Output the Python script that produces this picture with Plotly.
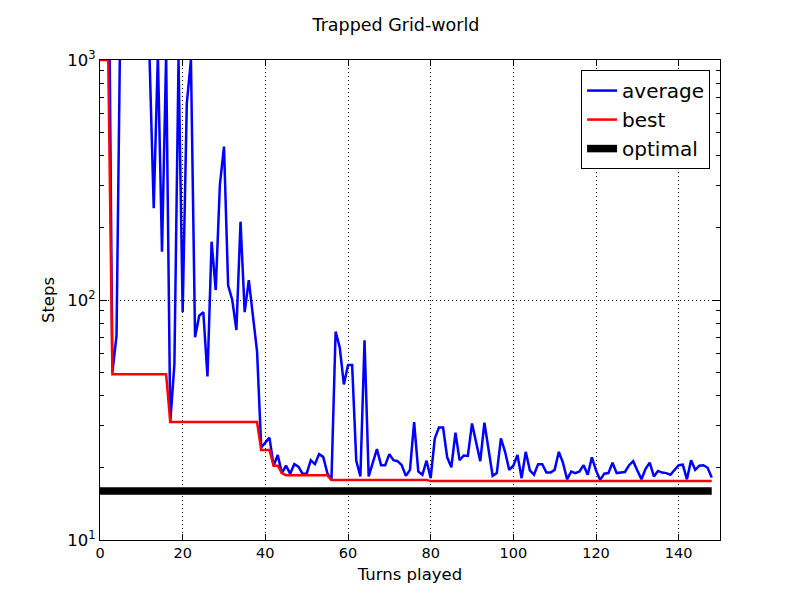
import plotly.graph_objects as go

turns = list(range(149))

average = [
    5000, 5000, 5000, 50, 71, 2000, 2000, 2000, 2000, 2000,
    2000, 2000, 1000, 241, 1050, 159, 1050, 31, 54, 1000,
    89, 660, 1000, 70, 86, 89, 48, 175, 110, 301,
    436, 115, 100, 75, 212, 89, 121, 86, 61, 24.3,
    25.6, 26.7, 20.4, 22.6, 19.0, 20.4, 18.9, 20.7, 20.2, 18.9,
    18.9, 21.5, 20.7, 22.8, 22.2, 19.0, 17.8, 73.8, 63.5, 44.5,
    53.6, 53.6, 21.4, 18.4, 68, 18.4, 21, 23.9, 20.5, 20.5,
    22.8, 21.5, 21.3, 20.5, 18.5, 19.6, 31, 19.3, 18.7, 21.4,
    18.1, 26.5, 29.4, 29.4, 22.1, 20.1, 28, 21.5, 22.5, 22.4,
    30.6, 25.3, 21.3, 30.8, 24.1, 18.5, 19.0, 26.5, 23.3, 19.6,
    20.4, 22.6, 18.1, 23.3, 19.5, 18.7, 20.7, 20.7, 19.1, 19.1,
    19.6, 23.3, 21, 17.9, 19.3, 19.0, 19.3, 20.5, 18.7, 22.1,
    19.5, 17.8, 18.9, 19.0, 21, 19.0, 19.1, 19.2, 20.5, 21.3,
    19.5, 17.9, 19.8, 21, 18.4, 19.4, 19.1, 19.0, 18.7, 19.5,
    20.5, 20.6, 17.9, 21.5, 19.6, 20.4, 20.5, 20.0, 18.2,
]

best = [
    1000, 1000, 1000,
    49, 49, 49, 49, 49, 49, 49, 49, 49, 49, 49, 49, 49, 49,
    31, 31, 31, 31, 31, 31, 31, 31, 31, 31, 31,
    31, 31, 31, 31, 31, 31, 31, 31, 31, 31, 31,
    23.7, 23.7, 23.7,
    20.4, 20.4,
    19.0,
    18.6, 18.6, 18.6, 18.6, 18.6, 18.6, 18.6, 18.6, 18.6, 18.6, 18.6,
    17.8, 17.8, 17.8, 17.8, 17.8, 17.8, 17.8, 17.8, 17.8, 17.8, 17.8, 17.8,
    17.8, 17.8, 17.8, 17.8, 17.8, 17.8, 17.8, 17.8, 17.8, 17.8, 17.8, 17.8,
    17.6, 17.6, 17.6, 17.6, 17.6, 17.6, 17.6, 17.6, 17.6, 17.6,
    17.6, 17.6, 17.6, 17.6, 17.6, 17.6, 17.6, 17.6, 17.6, 17.6,
    17.6, 17.6, 17.6, 17.6, 17.6, 17.6, 17.6, 17.6, 17.6, 17.6,
    17.6, 17.6, 17.6, 17.6, 17.6, 17.6, 17.6, 17.6, 17.6, 17.6,
    17.6, 17.6, 17.6, 17.6, 17.6, 17.6, 17.6, 17.6, 17.6, 17.6,
    17.6, 17.6, 17.6, 17.6, 17.6, 17.6, 17.6, 17.6, 17.6, 17.6,
    17.6, 17.6, 17.6, 17.6, 17.6, 17.6, 17.6, 17.6, 17.6,
]

optimal_value = 16
optimal = [optimal_value for _ in turns]

x_ticks = [0, 20, 40, 60, 80, 100, 120, 140]
y_ticks = [10, 100, 1000]
y_ticktext = ["10<sup>1</sup>", "10<sup>2</sup>", "10<sup>3</sup>"]

FONT = "DejaVu Sans"

fig = go.Figure()
fig.add_trace(go.Scatter(x=turns, y=average, mode="lines", name="average",
                         line=dict(color="#0000ff", width=2.5), legendgroup="a"))
fig.add_trace(go.Scatter(x=turns, y=best, mode="lines", name="best",
                         line=dict(color="#ff0000", width=2.5), legendgroup="b"))
fig.add_trace(go.Scatter(x=turns, y=optimal, mode="lines", name="optimal",
                         line=dict(color="#000000", width=7.5), legendgroup="c"))

fig.update_layout(
    width=800, height=600,
    margin=dict(l=100, r=80, t=60, b=60),
    paper_bgcolor="white", plot_bgcolor="white",
    font=dict(family=FONT, size=14.5, color="black"),
    title=dict(text="Trapped Grid-world", x=0.495, xref="container", xanchor="center",
               y=0.958, yref="container", yanchor="middle",
               font=dict(family=FONT, size=17.5, color="black")),
    legend=dict(x=0.984, y=0.979, xanchor="right", yanchor="top",
                bgcolor="white", bordercolor="black", borderwidth=1,
                font=dict(family=FONT, size=20, color="black"),
                tracegroupgap=0),
    showlegend=True,
)

fig.update_xaxes(
    range=[0, 150], tickvals=x_ticks, ticks="inside", ticklen=6, tickcolor="black",
    showline=True, linecolor="black", linewidth=1, mirror="allticks",
    showgrid=True, gridcolor="black", gridwidth=1, griddash="1px,3px",
    zeroline=False, tickfont=dict(size=14.5),
    title=dict(text="Turns played", font=dict(size=16.5), standoff=8),
)
fig.update_yaxes(
    type="log", range=[1, 3], tickvals=y_ticks, ticktext=y_ticktext,
    ticks="inside", ticklen=7, tickcolor="black",
    showline=True, linecolor="black", linewidth=1, mirror="allticks",
    showgrid=True, gridcolor="black", gridwidth=1, griddash="1px,3px",
    zeroline=False, tickfont=dict(size=16.5),
    minor=dict(ticks="inside", ticklen=4, tickcolor="black", showgrid=False, dtick="D1"),
    title=dict(text="Steps", font=dict(size=16.5), standoff=8),
)

fig.write_html("out.html")
